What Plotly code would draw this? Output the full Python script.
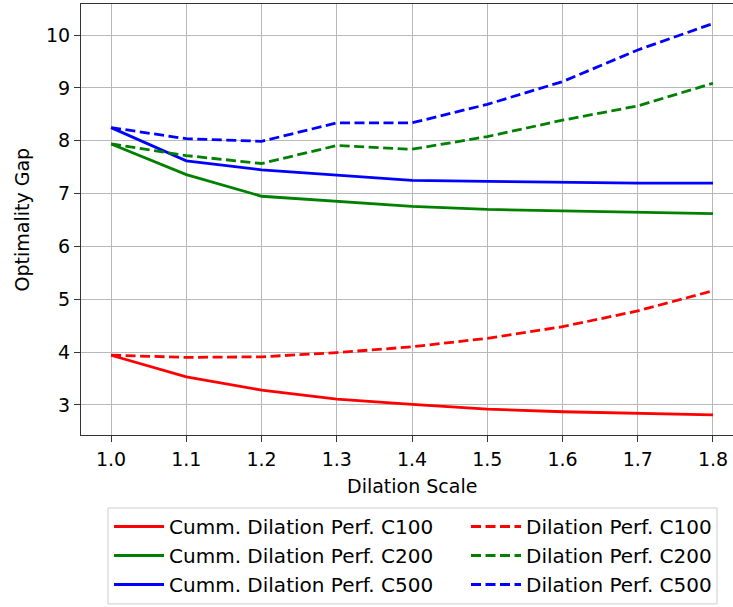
import plotly.graph_objects as go

x_vals = [1.0, 1.1, 1.2, 1.3, 1.4, 1.5, 1.6, 1.7, 1.8]

cumm_c100 = [3.94, 3.53, 3.28, 3.11, 3.01, 2.92, 2.87, 2.84, 2.81]
cumm_c200 = [7.94, 7.36, 6.95, 6.85, 6.76, 6.70, 6.67, 6.64, 6.62]
cumm_c500 = [8.25, 7.62, 7.45, 7.35, 7.25, 7.23, 7.21, 7.20, 7.20]
dil_c100 = [3.94, 3.90, 3.91, 3.99, 4.10, 4.26, 4.48, 4.78, 5.16]
dil_c200 = [7.94, 7.72, 7.57, 7.91, 7.84, 8.08, 8.39, 8.66, 9.09]
dil_c500 = [8.25, 8.04, 7.99, 8.34, 8.34, 8.69, 9.12, 9.72, 10.22]

series = [
    ("Cumm. Dilation Perf. C100", cumm_c100, "#ff0000", "solid", "legend"),
    ("Cumm. Dilation Perf. C200", cumm_c200, "#008000", "solid", "legend"),
    ("Cumm. Dilation Perf. C500", cumm_c500, "#0000ff", "solid", "legend"),
    ("Dilation Perf. C100", dil_c100, "#ff0000", "10px,4.5px", "legend2"),
    ("Dilation Perf. C200", dil_c200, "#008000", "10px,4.5px", "legend2"),
    ("Dilation Perf. C500", dil_c500, "#0000ff", "10px,4.5px", "legend2"),
]

x_ticks = [1.0, 1.1, 1.2, 1.3, 1.4, 1.5, 1.6, 1.7, 1.8]
y_ticks = [3, 4, 5, 6, 7, 8, 9, 10]

FONT = "DejaVu Sans"

fig = go.Figure()
for name, vals, color, dash, leg in series:
    fig.add_trace(go.Scatter(x=x_vals, y=vals, mode="lines", name=name,
                             legend=leg, legendgroup=name,
                             line=dict(color=color, width=2.8, dash=dash)))

leg_common = dict(
    orientation="v", xanchor="left", yanchor="top",
    xref="paper", yref="paper",
    borderwidth=0, bgcolor="rgba(0,0,0,0)",
    font=dict(family=FONT, size=20, color="black"),
    itemwidth=50, tracegroupgap=0,
)

fig.update_layout(
    width=733, height=607,
    margin=dict(l=81, r=0, t=4, b=172),
    paper_bgcolor="white", plot_bgcolor="white",
    font=dict(family=FONT, size=19, color="black"),
    showlegend=True,
    legend=dict(x=0.043, y=-0.1671, **leg_common),
    legend2=dict(x=0.5905, y=-0.1671, **leg_common),
    shapes=[
        dict(type="rect", xref="paper", yref="paper",
             x0=0.0414, x1=0.9755, y0=-0.1694, y1=-0.392,
             line=dict(color="#cccccc", width=1), fillcolor="white", layer="below"),
    ],
    xaxis=dict(
        range=[0.96, 1.8266], tickvals=x_ticks,
        ticktext=[f"{v:.1f}" for v in x_ticks],
        showgrid=True, gridcolor="#b8b8b8", gridwidth=1.2,
        showline=True, linecolor="#333333", linewidth=1.2, mirror=True,
        ticks="outside", ticklen=6, tickwidth=1.2, tickcolor="#333333",
        ticklabelstandoff=1,
        zeroline=False, tickfont=dict(family=FONT, size=19, color="black"),
    ),
    yaxis=dict(
        range=[2.43, 10.59], tickvals=y_ticks,
        showgrid=True, gridcolor="#b8b8b8", gridwidth=1.2,
        showline=True, linecolor="#333333", linewidth=1.2,
        ticks="outside", ticklen=6, tickwidth=1.2, tickcolor="#333333",
        zeroline=False, tickfont=dict(family=FONT, size=19, color="black"),
    ),
    annotations=[
        dict(text="Dilation Scale", x=1.40, xref="x", y=-0.118, yref="paper",
             xanchor="center", yanchor="middle", showarrow=False,
             font=dict(family=FONT, size=19, color="black")),
        dict(text="Optimality Gap", x=-0.0905, xref="paper", y=0.5, yref="paper",
             xanchor="center", yanchor="middle", textangle=-90, showarrow=False,
             font=dict(family=FONT, size=19, color="black")),
    ],
)

fig.write_html("out.html")
